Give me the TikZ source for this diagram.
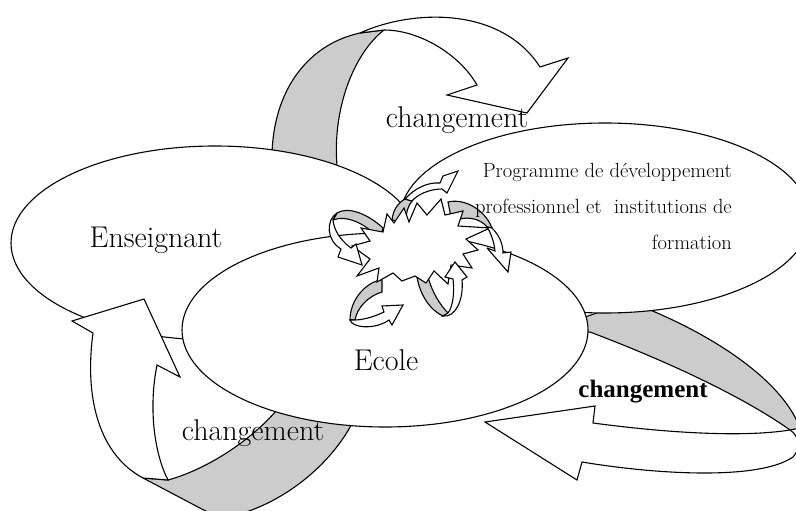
\documentclass[tikz,border=0pt]{standalone}
\usepackage{fontspec}
\newfontfamily\timesfont{Liberation Serif}
\usetikzlibrary{shapes.geometric}
\definecolor{bandgrey}{gray}{0.8}
\tikzset{
  outline/.style={draw=black, line width=1.1pt, line join=miter, miter limit=4},
  band/.style={outline, fill=bandgrey},
  face/.style={outline, fill=white},
  bubble/.style={ellipse, outline, fill=white, inner sep=0pt},
  bigtext/.style={font=\fontsize{30}{36}\selectfont, inner sep=0pt},
  smalltext/.style={font=\fontsize{20.5}{24}\selectfont, inner sep=0pt},
  boldtext/.style={font=\timesfont\bfseries\fontsize{25}{30}\selectfont, inner sep=0pt},
}
\begin{document}
\begin{tikzpicture}[x=1pt, y=-1pt]
\useasboundingbox (0,0) rectangle (796,511);
\fill[white] (0,0) rectangle (796,511);
\clip (0,0) rectangle (796,511);

% upper twisted arrow: grey back side rising behind "Enseignant", white front with head
\path[band] (272,165) .. controls (270,95) and (305,45) .. (360,33) -- (384,30)
  .. controls (352,55) and (330,115) .. (338,175) -- cycle;
\path[face] (360,33) .. controls (410,10) and (500,5) .. (540,67) -- (568,58) -- (527,113)
  -- (447,95) -- (477,85) .. controls (460,55) and (420,30) .. (384,30) -- cycle;

% lower right arrow, grey part passing behind the ellipses
\path[band] (570,322) -- (630,302) .. controls (700,328) and (780,375) .. (800,428)
  -- (790,430) .. controls (755,405) and (690,370) .. (590,332) -- (570,335) -- cycle;
\path[face] (790,430) .. controls (740,438) and (660,432) .. (593,423) -- (595,406) -- (485,422)
  -- (577,480) -- (582,462) .. controls (660,475) and (760,480) .. (793,457)
  .. controls (800,450) and (800,436) .. (790,430) -- cycle;

% Enseignant
\node[bubble, minimum width=408pt, minimum height=194pt] (ens) at (215,243) {};

% lower left arrow: white front with head, grey back going behind "Ecole"
\path[band] (143,478) -- (168,480) .. controls (205,470) and (255,440) .. (285,400)
  -- (360,405) .. controls (345,450) and (295,500) .. (233,516) -- (215,516) -- cycle;
\path[face] (93,333) -- (72,321) -- (144,299) -- (180,377) -- (157,365)
  .. controls (148,410) and (155,455) .. (168,480) -- (143,478)
  .. controls (100,455) and (84,400) .. (93,333) -- cycle;

% Programme de developpement
\node[bubble, minimum width=410pt, minimum height=190pt] (prog) at (605,218) {};

% Ecole
\node[bubble, minimum width=406pt, minimum height=194pt] (ecole) at (385,330) {};

% small twisted arrows round the burst: grey back sides
\path[band] (383,228) .. controls (368,214) and (348,206) .. (337,213) -- (333,220)
  .. controls (345,215) and (365,222) .. (380,240) -- cycle;
\path[band] (382,280) .. controls (368,281) and (350,298) .. (350,320) -- (355,320)
  .. controls (357,308) and (368,296) .. (382,292) -- cycle;
\path[band] (417,277) .. controls (420,295) and (430,310) .. (443,316) -- (448,313)
  .. controls (440,305) and (432,292) .. (428,277) -- cycle;
\path[band] (448,202) .. controls (465,198) and (485,210) .. (492,228) -- (487,227)
  .. controls (480,218) and (465,215) .. (452,222) -- cycle;
\path[band] (392,220) .. controls (393,210) and (398,203) .. (405,199) -- (412,201)
  .. controls (408,206) and (406,212) .. (406,222) -- cycle;

% central burst
\path[face] (352,246) -- (370,241) -- (361,228) -- (383,232) -- (387,214) -- (394,223)
  -- (404,208) -- (409,222) -- (417,203) -- (427,215) -- (441,199) -- (445,215)
  -- (463,211) -- (458,226) -- (490,228) -- (466,239) -- (478,250) -- (463,254)
  -- (472,268) -- (451,265) -- (448,284) -- (434,271) -- (426,283) -- (415,276)
  -- (402,281) -- (393,273) -- (377,282) -- (379,268) -- (357,276) -- (370,259) -- cycle;

% small twisted arrows: white front sides with heads
\path[face] (337,213) .. controls (326,220) and (326,240) .. (341,249) -- (338,257) -- (362,265)
  -- (356,244) -- (351,248) .. controls (340,240) and (334,230) .. (333,220) -- cycle;
\path[face] (350,320) .. controls (352,328) and (375,330) .. (389,320) -- (392,325) -- (403,305)
  -- (382,306) -- (384,312) .. controls (372,318) and (360,320) .. (355,320) -- cycle;
\path[face] (443,316) .. controls (455,318) and (464,300) .. (462,280) -- (467,277) -- (455,262)
  -- (445,277) -- (453,279) .. controls (455,295) and (452,308) .. (448,313) -- cycle;
\path[face] (492,228) .. controls (500,236) and (503,245) .. (503,253) -- (511,252) -- (508,272)
  -- (487,248) -- (495,251) .. controls (494,242) and (491,233) .. (487,227) -- cycle;
\path[face] (405,199) .. controls (415,188) and (428,182) .. (440,183) -- (443,176) -- (458,171)
  -- (447,193) -- (442,189) .. controls (430,189) and (418,194) .. (412,201) -- cycle;

% labels
\node[bigtext, anchor=base] (chtop) at (457,128) {changement};
\node[bigtext, anchor=base] (enslabel) at (156,247) {Enseignant};
\node[bigtext, anchor=base] (ecolelabel) at (386,370) {Ecole};
\node[bigtext, anchor=base] (chleft) at (253,440) {changement};
\node[boldtext, anchor=base] (chright) at (643,397) {changement};
\node[smalltext, anchor=base east] (prog1) at (732,177) {Programme de développement};
\node[smalltext, anchor=base east] (prog2) at (732,213) {professionnel et~ institutions de};
\node[smalltext, anchor=base east] (prog3) at (732,249) {formation};
\end{tikzpicture}
\end{document}
